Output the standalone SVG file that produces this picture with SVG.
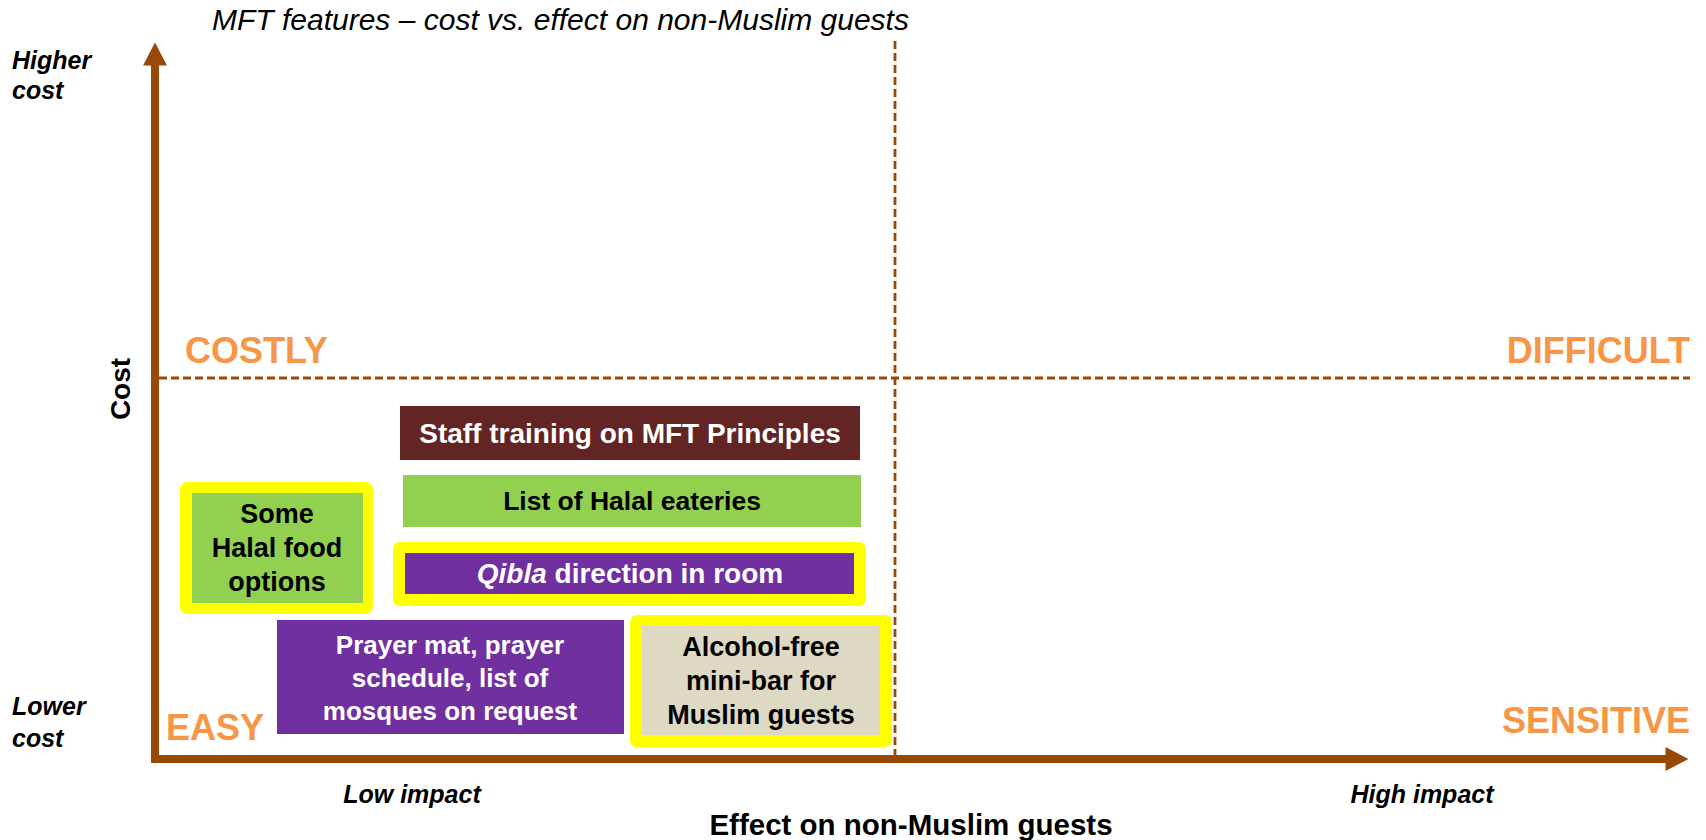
<svg xmlns="http://www.w3.org/2000/svg" width="1706" height="840" viewBox="0 0 1706 840">
  <style>
    text { font-family: "Liberation Sans", Arial, sans-serif; }
    .title { font-size: 30px; font-style: italic; fill: #000; }
    .axis-end { font-size: 25px; font-weight: bold; font-style: italic; fill: #000; }
    .axis-name { font-size: 28px; font-weight: bold; fill: #000; }
    .quad { font-size: 36px; font-weight: bold; fill: #F79646; }
    .lbl { font-size: 27px; font-weight: bold; text-anchor: middle; }
    .light { fill: #FFFFFF; }
    .dark { fill: #000000; }
    .axis { stroke: #984807; stroke-width: 8; fill: none; }
    .split { stroke: #984807; stroke-width: 2.8; stroke-dasharray: 8 4; fill: none; }
    .hl { fill: #FFFF00; }
  </style>
  <defs>
    <marker id="arrow" markerUnits="userSpaceOnUse" markerWidth="24" markerHeight="24" viewBox="0 0 23 24" refX="0.5" refY="12" orient="auto">
      <path d="M0,0 L23,12 L0,24 z" fill="#984807"/>
    </marker>
  </defs>

  <rect width="1706" height="840" fill="#FFFFFF"/>

  <text class="title" x="212" y="30">MFT features – cost vs. effect on non-Muslim guests</text>

  <!-- quadrant dividers -->
  <g id="dividers">
    <line class="split" x1="895" y1="41" x2="895" y2="755"/>
    <line class="split" x1="159" y1="378" x2="1690" y2="378"/>
  </g>

  <!-- axes -->
  <g id="connectors">
    <line class="axis" x1="155" y1="763" x2="155" y2="65" marker-end="url(#arrow)"/>
    <line class="axis" x1="151" y1="759" x2="1666" y2="759" marker-end="url(#arrow)"/>
  </g>

  <!-- axis labels -->
  <g id="axis-labels">
    <text class="axis-end" x="12" y="69">Higher</text>
    <text class="axis-end" x="12" y="99">cost</text>
    <text class="axis-end" x="12" y="715">Lower</text>
    <text class="axis-end" x="12" y="747">cost</text>
    <text class="axis-name" transform="translate(130,389) rotate(-90)" text-anchor="middle">Cost</text>
    <text class="axis-end" x="412" y="803" text-anchor="middle">Low impact</text>
    <text class="axis-end" x="1422" y="803" text-anchor="middle">High impact</text>
    <text class="axis-name" x="911" y="835" text-anchor="middle" style="font-size:29.5px">Effect on non-Muslim guests</text>
  </g>

  <!-- quadrant names -->
  <g id="quadrants">
    <text class="quad" x="185" y="363">COSTLY</text>
    <text class="quad" x="1690" y="363" text-anchor="end">DIFFICULT</text>
    <text class="quad" x="166" y="740">EASY</text>
    <text class="quad" x="1690" y="733" text-anchor="end">SENSITIVE</text>
  </g>

  <!-- feature boxes -->
  <g id="staff-training">
    <rect x="400" y="406" width="460" height="54" fill="#632523"/>
    <text class="lbl light" x="630" y="443" style="font-size:28px">Staff training on MFT Principles</text>
  </g>

  <g id="halal-eateries">
    <rect x="403" y="475" width="458" height="52" fill="#92D050"/>
    <text class="lbl dark" x="632" y="510" style="font-size:26.5px">List of Halal eateries</text>
  </g>

  <g id="qibla">
    <rect class="hl" x="393" y="542" width="473" height="64" rx="7"/>
    <rect x="405" y="553" width="449" height="41" fill="#7030A0"/>
    <text class="lbl light" x="630" y="583" style="font-size:28px"><tspan font-style="italic">Qibla</tspan> direction in room</text>
  </g>

  <g id="halal-food">
    <rect class="hl" x="180" y="482" width="193" height="132" rx="7"/>
    <rect x="192" y="493" width="171" height="110" fill="#92D050"/>
    <text class="lbl dark" x="277" y="523">Some</text>
    <text class="lbl dark" x="277" y="557">Halal food</text>
    <text class="lbl dark" x="277" y="591">options</text>
  </g>

  <g id="prayer">
    <rect x="277" y="620" width="347" height="114" fill="#7030A0"/>
    <text class="lbl light" x="450" y="654" style="font-size:26px">Prayer mat, prayer</text>
    <text class="lbl light" x="450" y="687" style="font-size:26px">schedule, list of</text>
    <text class="lbl light" x="450" y="720" style="font-size:26px">mosques on request</text>
  </g>

  <g id="mini-bar">
    <rect class="hl" x="630" y="615" width="262" height="132" rx="7"/>
    <rect x="642" y="626" width="238" height="109" fill="#DDD9C3"/>
    <text class="lbl dark" x="761" y="656">Alcohol-free</text>
    <text class="lbl dark" x="761" y="690">mini-bar for</text>
    <text class="lbl dark" x="761" y="724">Muslim guests</text>
  </g>
</svg>
